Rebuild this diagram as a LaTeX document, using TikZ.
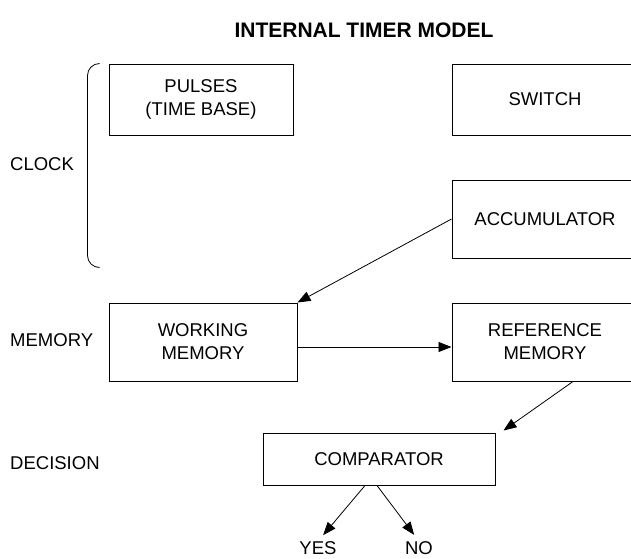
\documentclass[tikz,border=0pt]{standalone}
\usepackage{fontspec}
\setmainfont{Liberation Sans}
\usetikzlibrary{positioning, arrows.meta}

\begin{document}
\begin{tikzpicture}[
        x=1pt, y=-1pt,
        every node/.style={font=\fontsize{18.5}{23}\selectfont},
        box/.style={draw, line width=1pt, minimum width=186pt, minimum height=78pt, align=center, inner sep=0pt},
        rowlabel/.style={anchor=west, inner sep=0pt},
        outcome/.style={inner sep=0pt},
        link/.style={-, line width=0.8pt},
        arrow/.style={link, -{Triangle[length=13pt, width=10pt]}}
    ]
        \useasboundingbox (0,0) rectangle (631,558);

        % Title
        \node[font=\fontsize{21}{24}\selectfont\bfseries] (title) at (364,30) {INTERNAL TIMER MODEL};

        % Clock
        \node[box, minimum width=184pt, minimum height=71pt] (pulses) at (201,99.5) {PULSES\\(TIME BASE)};
        \node[box, minimum height=71pt, right=158pt of pulses] (switch) {SWITCH};
        \node[box, below=44pt of switch] (acc) {ACCUMULATOR};
        \draw[link, rounded corners=12pt] ([xshift=-9pt]pulses.north west) -- ++(-12,0) -- ++(0,204) -- ++(12,0);

        % Memory
        \node[box, below=44pt of acc] (refmem) {REFERENCE\\MEMORY};
        \node[box, minimum width=188pt, left=154pt of refmem] (workmem) {WORKING\\MEMORY};

        % Decision
        \node[box, minimum width=232pt, minimum height=52pt] (comp) at (379,459) {COMPARATOR};
        \node[outcome] (yes) at (318,548) {YES};
        \node[outcome] (no) at (419,548) {NO};

        % Row labels
        \node[rowlabel] (clock) at (10,164) {CLOCK};
        \node[rowlabel] (memory) at (10,340) {MEMORY};
        \node[rowlabel] (decision) at (10,463) {DECISION};

        \draw[arrow] (acc.west) -- (workmem.north east);
        \draw[arrow] ([yshift=-5pt]workmem.east) -- ([yshift=-5pt]refmem.west);
        \draw[arrow] ([xshift=28pt]refmem.south) -- ([shift={(8pt,2pt)}]comp.north east);
        \draw[arrow, shorten >=8pt] ([xshift=-14pt]comp.south) -- (yes.north);
        \draw[arrow, shorten >=8pt] ([xshift=-2pt]comp.south) -- (no.north);

    \end{tikzpicture}
\end{document}
